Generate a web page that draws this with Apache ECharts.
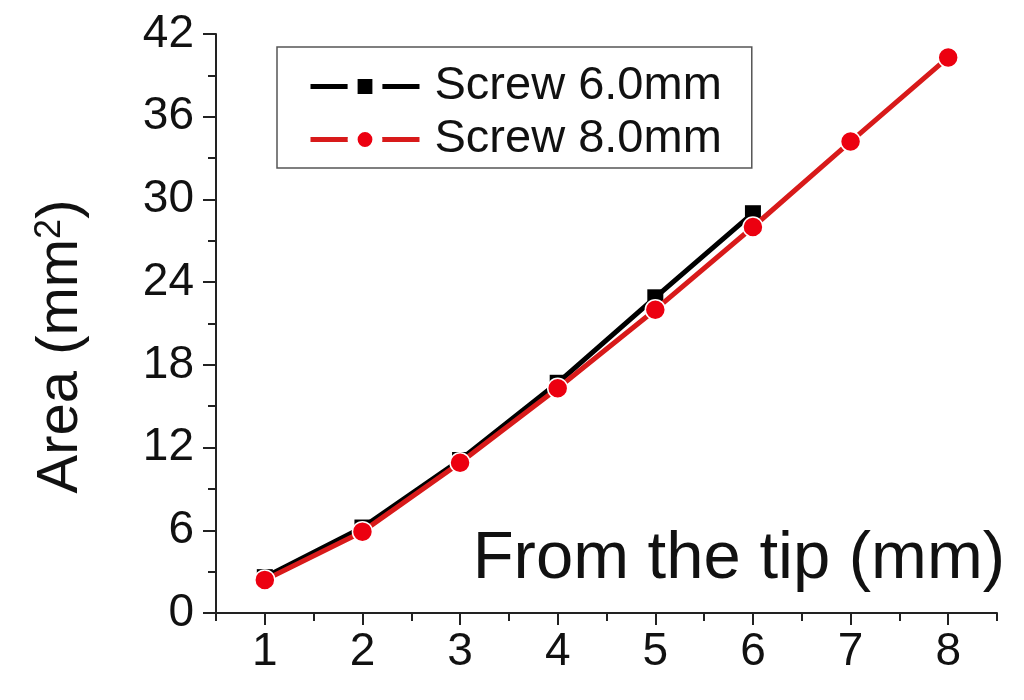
<!DOCTYPE html>
<html lang="en">
<head>
    <meta charset="UTF-8">
    <title>Area vs distance from the tip</title>
    <script src="https://cdn.jsdelivr.net/npm/echarts@6/dist/echarts.min.js"></script>
    <style>
        html, body { margin: 0; padding: 0; background: #fff; }
    </style>
</head>
<body>
        <div id="main" style="width: 1024px;height:700px;"></div>
        <script type="text/javascript">
            // data
            var positions = [1, 2, 3, 4, 5, 6, 7, 8];
            var screw60 = [2.6, 6.2, 11.1, 16.7, 22.9, 29.0];
            var screw80 = [2.4, 5.9, 10.9, 16.3, 22.0, 28.0, 34.2, 40.3];
            var xMajorTicks = [1, 2, 3, 4, 5, 6, 7, 8];
            var xMinorTicks = [0.5, 1.5, 2.5, 3.5, 4.5, 5.5, 6.5, 7.5, 8.5];

            function pairs(xs, ys) {
                var out = [];
                for (var i = 0; i < ys.length; i++) {
                    out.push([xs[i], ys[i]]);
                }
                return out;
            }

            var font = 'Liberation Sans, Arial, sans-serif';
            var ink = '#111';
            var red = '#ec0010';

            var myChart = echarts.init(document.getElementById('main'));
            var option = {
                backgroundColor: '#fff',
                animation: false,
                grid: {
                    left: 216,
                    right: 27,
                    top: 34,
                    bottom: 87
                },
                legend: {
                    orient: 'vertical',
                    left: 277,
                    top: 47,
                    padding: [16, 30, 5, 31],
                    itemGap: 6,
                    itemWidth: 109,
                    itemHeight: 31,
                    borderColor: '#555',
                    borderWidth: 1.5,
                    lineStyle: { width: 5 },
                    itemStyle: {
                        borderColor: '#fff',
                        borderWidth: 10
                    },
                    textStyle: {
                        fontFamily: font,
                        fontSize: 47,
                        color: ink,
                        padding: [0, 0, 0, 10]
                    },
                    data: ['Screw 6.0mm', 'Screw 8.0mm']
                },
                xAxis: [
                    {
                        type: 'value',
                        min: 0.5,
                        max: 8.5,
                        splitLine: { show: false },
                        axisLine: { lineStyle: { color: '#222', width: 2 } },
                        axisTick: {
                            customValues: xMajorTicks,
                            length: 12,
                            lineStyle: { color: '#222', width: 2 }
                        },
                        axisLabel: {
                            customValues: xMajorTicks,
                            margin: 16,
                            fontFamily: font,
                            fontSize: 46,
                            color: ink
                        },
                        name: 'From the tip (mm)',
                        nameLocation: 'end',
                        nameGap: 8,
                        nameTextStyle: {
                            fontFamily: font,
                            fontSize: 67,
                            color: ink,
                            align: 'right',
                            verticalAlign: 'bottom',
                            padding: [0, 0, 20, 0]
                        }
                    },
                    {
                        type: 'value',
                        min: 0.5,
                        max: 8.5,
                        position: 'bottom',
                        splitLine: { show: false },
                        axisLine: { show: false },
                        axisLabel: { show: false },
                        axisTick: {
                            customValues: xMinorTicks,
                            length: 8,
                            lineStyle: { color: '#222', width: 2 }
                        }
                    }
                ],
                yAxis: {
                    type: 'value',
                    min: 0,
                    max: 42,
                    interval: 6,
                    splitLine: { show: false },
                    axisLine: { show: true, lineStyle: { color: '#222', width: 2 } },
                    axisTick: { show: true, length: 13, lineStyle: { color: '#222', width: 2 } },
                    minorTick: { show: true, splitNumber: 2, length: 8, lineStyle: { color: '#222', width: 2 } },
                    axisLabel: {
                        margin: 22,
                        fontFamily: font,
                        fontSize: 46,
                        color: ink
                    },
                    name: '{a|Area (mm}{s|2}{a|)}',
                    nameLocation: 'middle',
                    nameGap: 126,
                    nameTextStyle: {
                        fontFamily: font,
                        color: ink,
                        padding: [0, 46, 0, 0],
                        rich: {
                            a: { fontFamily: font, fontSize: 58, color: ink },
                            s: { fontFamily: font, fontSize: 36, color: ink, verticalAlign: 'top' }
                        }
                    }
                },
                series: [
                    {
                        name: 'Screw 6.0mm',
                        type: 'line',
                        data: pairs(positions, screw60),
                        symbol: 'rect',
                        symbolSize: 16,
                        color: '#000',
                        lineStyle: { color: '#000', width: 5 },
                        itemStyle: { color: '#000' },
                        z: 2
                    },
                    {
                        name: 'Screw 8.0mm',
                        type: 'line',
                        data: pairs(positions, screw80),
                        symbol: 'circle',
                        symbolSize: 20,
                        color: red,
                        lineStyle: { color: '#d81a1a', width: 5 },
                        itemStyle: { color: red, borderColor: '#fff', borderWidth: 1.5 },
                        z: 3
                    }
                ]
            };
            myChart.setOption(option);
        </script>

</body>
</html>
